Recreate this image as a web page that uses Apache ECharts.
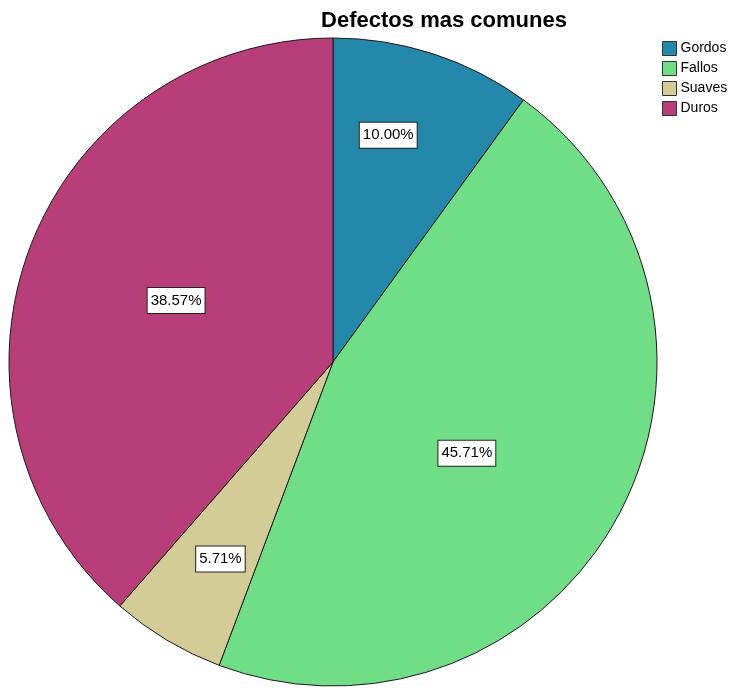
<!DOCTYPE html>
<html>
<head>
<meta charset="utf-8">
<script src="https://cdn.jsdelivr.net/npm/echarts@6/dist/echarts.min.js"></script>
<style>
  html, body { margin: 0; padding: 0; background: #ffffff; }
  #chart { width: 731px; height: 688px; }
</style>
</head>
<body>
<div id="chart"></div>
<script>
// Defect counts per category
const categories = ['Gordos', 'Fallos', 'Suaves', 'Duros'];
const counts = [7, 32, 4, 27];
const colors = ['#2388aa', '#70dd87', '#d4cc97', '#b83e7a'];

// Label placement inside each slice: fraction of radius, angle shift (deg)
const labelFrac = [0.72, 0.50, 0.70, 0.52];
const labelShift = [-4.3, 6.0, -1.1, 0.8];

const cx = 333, cy = 362, R = 324;
const total = counts.reduce((a, b) => a + b, 0);

// Mid-angle of each slice, clockwise from 12 o'clock
const midAngles = [];
let acc = 0;
counts.forEach(v => {
  midAngles.push((acc + v / 2) / total * 360);
  acc += v;
});

const chart = echarts.init(document.getElementById('chart'), null, { renderer: 'canvas' });
chart.setOption({
  animation: false,
  backgroundColor: '#ffffff',
  title: {
    text: 'Defectos mas comunes',
    left: 439,
    top: 5,
    textAlign: 'center',
    textStyle: {
      fontFamily: 'Liberation Sans, Arial, sans-serif',
      fontSize: 22,
      fontWeight: 'bold',
      color: '#000000'
    }
  },
  legend: {
    orient: 'vertical',
    left: 662,
    top: 41,
    padding: 0,
    itemWidth: 14,
    itemHeight: 14,
    itemGap: 5,
    icon: 'rect',
    textStyle: {
      fontFamily: 'Liberation Sans, Arial, sans-serif',
      fontSize: 14,
      color: '#000000',
      padding: [0, 0, 0, -1]
    },
    data: categories.map((c, i) => ({
      name: c,
      itemStyle: { color: colors[i], borderColor: '#333333', borderWidth: 1 }
    }))
  },
  series: [{
    type: 'pie',
    center: [cx, cy],
    radius: [0, R],
    startAngle: 90,
    clockwise: true,
    avoidLabelOverlap: false,
    data: categories.map((c, i) => ({
      name: c,
      value: counts[i],
      itemStyle: { color: colors[i] }
    })),
    itemStyle: { borderColor: '#1a1a1a', borderWidth: 1 },
    label: {
      show: true,
      position: 'inside',
      formatter: p => (p.value / total * 100).toFixed(2) + '%',
      fontFamily: 'Liberation Sans, Arial, sans-serif',
      fontSize: 15,
      lineHeight: 16,
      color: '#000000',
      backgroundColor: '#ffffff',
      borderColor: '#222222',
      borderWidth: 1,
      padding: [5, 3, 4, 3]
    },
    labelLine: { show: false },
    labelLayout: function (p) {
      const i = p.dataIndex;
      const a = (midAngles[i] + labelShift[i]) * Math.PI / 180;
      const r = labelFrac[i] * R;
      return {
        x: cx + r * Math.sin(a),
        y: cy - r * Math.cos(a),
        align: 'center',
        verticalAlign: 'middle'
      };
    },
    emphasis: { disabled: true }
  }]
});
</script>
</body>
</html>
